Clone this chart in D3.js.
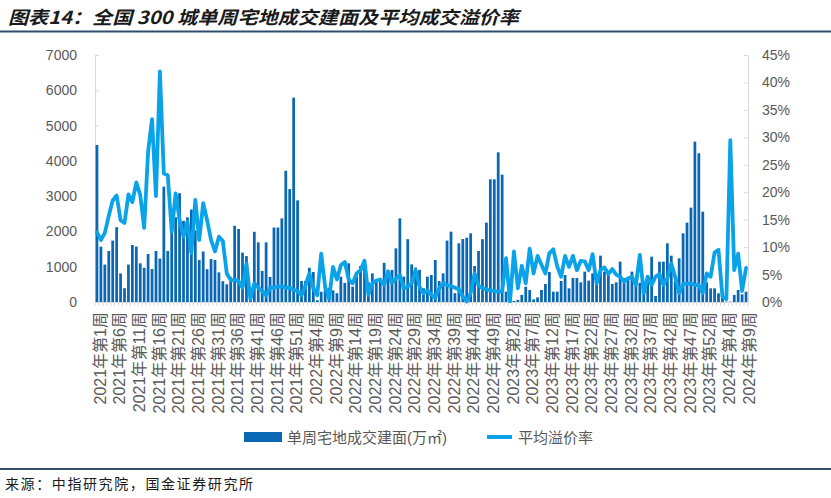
<!DOCTYPE html>
<html>
<head>
<meta charset="utf-8">
<script src="https://cdn.jsdelivr.net/npm/d3@7/dist/d3.min.js"></script>
<style>
  html, body { margin: 0; padding: 0; background: #fff; }
  svg text { font-family: "Liberation Sans", "Noto Sans CJK SC", sans-serif; }
</style>
</head>
<body>
<div id="chart"></div>
<script>
// weekly land deals, 2021 w1 .. 2024 w9 (2023 has 53 weeks)
var years    = [2021, 2022, 2023, 2024]
  , weeksPer = [52, 52, 53, 9]

// 单周宅地成交建面 (万㎡)
var area2021 = [4450,1570,1060,1445,1740,2120,810,390,1060,1615,1570,1095,970,1360,935,1445,1230,3268,1445,2580,
                2400,3084,2300,2400,2620,2030,1190,1430,930,1220,1190,840,590,500,700,2160,2070,1400,1300,400,
                1990,1690,880,1690,710,2110,2110,2370,3720,3200,5790,2880]
var area2022 = [595,600,970,850,50,290,450,390,330,250,720,540,1096,435,720,1020,1190,560,812,640,
                630,1110,800,910,1520,2370,720,1780,1065,975,910,390,720,765,1190,595,812,1740,1993,250,
                1663,1785,1823,1946,1020,1445,1780,2250,3476,3476,4242,3609]
var area2023 = [293,10,30,60,200,435,340,75,132,340,510,850,293,293,595,765,387,680,680,557,
                860,605,812,700,1313,860,800,510,557,1143,680,700,860,548,545,246,765,1285,170,1143,
                1143,1663,1313,600,1238,1946,2248,2673,4544,4214,2560,557,387]
var area2024 = [387,246,170,10,10,200,340,217,293]

// 平均溢价率 (%)
var rate2021 = [12.7,11.3,12.6,15.7,18.5,19.4,14.9,14.4,19.6,18.2,21.8,19.5,13.5,27.4,33.3,19.3,42.0,23.4,23.1,12.8,
                19.8,14.9,11.9,14.6,8.9,18.6,11.3,18.0,14.9,11.3,9.2,11.9,11.1,5.2,4.0,4.0,3.8,2.6,7.0,0.5,
                3.4,2.6,2.0,1.2,2.6,2.6,2.8,2.9,2.6,2.6,2.2,2.0]
var rate2022 = [1.2,3.0,5.2,2.5,1.2,8.8,2.8,0.6,6.4,4.1,6.7,7.3,4.1,3.4,5.2,5.8,7.5,1.3,3.4,3.9,
                4.1,3.1,5.6,3.5,4.3,4.9,2.5,2.8,3.4,5.8,2.8,1.6,2.1,1.3,0.8,2.5,3.4,3.1,2.9,2.6,
                2.3,1.0,0.1,1.6,5.2,3.0,2.5,2.3,2.1,2.0,1.9,1.9]
var rate2023 = [8.0,0.1,9.2,2.5,6.6,3.4,9.7,5.2,8.4,6.8,5.2,8.9,9.6,6.5,4.6,8.4,6.4,8.4,5.8,7.5,
                7.4,5.8,8.7,3.4,5.8,6.3,5.1,6.0,5.0,4.6,3.7,4.3,4.6,3.1,8.6,1.6,4.6,3.1,4.6,5.1,
                3.1,4.3,7.0,4.6,1.6,3.3,3.3,3.4,3.1,3.1,1.6,5.2,4.6]
var rate2024 = [9.0,9.5,1.0,0.5,29.5,5.8,8.8,2.0,6.2]

var areaTicks = [0,1000,2000,3000,4000,5000,6000,7000]
  , rateTicks = [0,5,10,15,20,25,30,35,40,45]

var titleText  = "图表14：全国 300 城单周宅地成交建面及平均成交溢价率"
  , sourceText = "来源：中指研究院，国金证券研究所"
  , barName    = "单周宅地成交建面(万㎡)"
  , lineName   = "平均溢价率"

// build rows
var areas = area2021.concat(area2022, area2023, area2024)
  , rates = rate2021.concat(rate2022, rate2023, rate2024)
  , weeks = []
years.forEach(function (yr, k) {
    for (var w = 1; w <= weeksPer[k]; w++) weeks.push(yr + "年第" + w + "周")
})
var rows = weeks.map(function (w, i) { return {i: i, week: w, area: areas[i], rate: rates[i]} })

// note: "top" is taken by window.top, so plot edges get their own names
var width = 831, height = 498
  , plotL = 95, plotR = 748, plotT = 55, plotB = 302
  , barColor = "#0a67b4", lineColor = "#0aa2e8"
  , grey = "#595959", axisGrey = "#d9d9d9", ruleColor = "#2e4d6b"

var svg = d3.select("#chart").append("svg").attr("width", width).attr("height", height)

var x  = d3.scaleBand().domain(d3.range(rows.length)).range([plotL, plotR]).paddingInner(0.3).paddingOuter(0.15)
  , y  = d3.scaleLinear().domain([0, 7000]).range([plotB, plotT])
  , yr = d3.scaleLinear().domain([0, 45]).range([plotB, plotT])

// title and rules
svg.append("text").attr("x", 8).attr("y", 24)
    .attr("textLength", 511).attr("lengthAdjust", "spacingAndGlyphs")
    .style("font-family", "'Noto Sans CJK SC', sans-serif")
    .style("font-size", "18px").style("font-weight", 700).style("font-style", "italic")
    .attr("fill", "#1a1a1a").text(titleText)
svg.append("line").attr("x1", 0).attr("x2", width).attr("y1", 31.5).attr("y2", 31.5)
    .attr("stroke", ruleColor).attr("stroke-width", 2)
svg.append("line").attr("x1", 0).attr("x2", width).attr("y1", 469).attr("y2", 469)
    .attr("stroke", ruleColor).attr("stroke-width", 2)
svg.append("text").attr("x", 5).attr("y", 489)
    .attr("textLength", 248).attr("lengthAdjust", "spacing")
    .style("font-family", "'Noto Sans CJK SC', sans-serif").style("font-size", "14px")
    .attr("fill", "#1a1a1a").text(sourceText)

// axes
var gl = svg.append("g").attr("transform", "translate(" + plotL + ",0)")
    .call(d3.axisLeft(y).tickValues(areaTicks).tickSizeInner(-4).tickSizeOuter(0).tickPadding(18)
          .tickFormat(d3.format("d")))
var gr = svg.append("g").attr("transform", "translate(" + plotR + ",0)")
    .call(d3.axisRight(yr).tickValues(rateTicks).tickSizeInner(-4).tickSizeOuter(0).tickPadding(14)
          .tickFormat(function (d) { return d + "%" }))
;[gl, gr].forEach(function (g) {
    g.select(".domain").attr("stroke", axisGrey)
    g.selectAll(".tick line").attr("stroke", axisGrey)
    g.selectAll(".tick text").attr("fill", grey).style("font-size", "14px")
})

// x axis line and category ticks
svg.append("line").attr("x1", plotL).attr("x2", plotR).attr("y1", plotB + 0.5).attr("y2", plotB + 0.5)
    .attr("stroke", axisGrey)
svg.append("g").selectAll("line").data(d3.range(rows.length + 1)).join("line")
    .attr("x1", function (d) { return plotL + d * (plotR - plotL) / rows.length })
    .attr("x2", function (d) { return plotL + d * (plotR - plotL) / rows.length })
    .attr("y1", plotB).attr("y2", plotB + 4).attr("stroke", axisGrey)

// bars
svg.append("g").selectAll("rect").data(rows).join("rect")
    .attr("x", function (d) { return x(d.i) })
    .attr("width", x.bandwidth())
    .attr("y", function (d) { return y(d.area) })
    .attr("height", function (d) { return plotB - y(d.area) })
    .attr("fill", barColor)

// line
var line = d3.line()
    .x(function (d) { return x(d.i) + x.bandwidth() / 2 })
    .y(function (d) { return yr(d.rate) })
svg.append("path").datum(rows).attr("d", line)
    .attr("fill", "none").attr("stroke", lineColor).attr("stroke-width", 3.8)
    .attr("stroke-linejoin", "round").attr("stroke-linecap", "round")

// x labels every 5 weeks
svg.append("g").selectAll("text").data(rows.filter(function (d) { return d.i % 5 === 0 })).join("text")
    .attr("transform", function (d) {
        return "translate(" + (x(d.i) + x.bandwidth() / 2 + 3) + "," + 312 + ") rotate(-90)"
    })
    .attr("text-anchor", "end").attr("dy", "0.35em")
    .attr("fill", grey).style("font-size", "16px")
    .text(function (d) { return d.week })

// legend
var lg = svg.append("g")
lg.append("rect").attr("x", 244).attr("y", 432).attr("width", 38).attr("height", 10).attr("fill", barColor)
lg.append("text").attr("x", 287).attr("y", 442.5).attr("fill", grey).style("font-size", "15px").text(barName)
lg.append("line").attr("x1", 487).attr("x2", 512).attr("y1", 437).attr("y2", 437)
    .attr("stroke", lineColor).attr("stroke-width", 4)
lg.append("text").attr("x", 518).attr("y", 442.5).attr("fill", grey).style("font-size", "15px").text(lineName)
</script>
</body>
</html>
